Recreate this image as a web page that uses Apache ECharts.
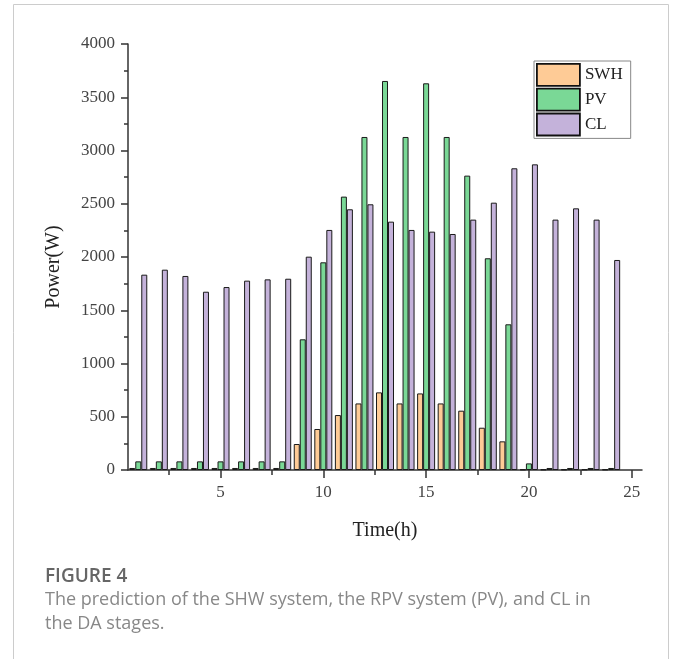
<!DOCTYPE html>
<html>
<head>
<meta charset="utf-8">
<title>Figure 4</title>
<script src="https://cdn.jsdelivr.net/npm/echarts@6.0.0/dist/echarts.min.js"></script>
<style>
  html, body { margin: 0; padding: 0; background: #fff; }
  #main { width: 680px; height: 659px; }
</style>
</head>
<body>
<div id="main"></div>
<script>
// hours of the day
var hours = [1, 2, 3, 4, 5, 6, 7, 8, 9, 10, 11, 12, 13, 14, 15, 16, 17, 18, 19, 20, 21, 22, 23, 24];
// predicted power (W)
var swh = [19, 19, 19, 19, 19, 19, 19, 19, 244, 385, 516, 625, 729, 625, 719, 625, 557, 397, 269, 5, 5, 5, 5, 5];
var pv = [81, 81, 81, 81, 81, 81, 81, 81, 1227, 1950, 2567, 3127, 3653, 3127, 3631, 3127, 2764, 1988, 1368, 62, 19, 19, 19, 19];
var cl = [1834, 1881, 1822, 1674, 1718, 1778, 1790, 1796, 2003, 2254, 2448, 2495, 2332, 2254, 2238, 2216, 2351, 2510, 2833, 2870, 2351, 2457, 2351, 1972];
// axis ticks
var xLabels = [5, 10, 15, 20, 25];
var xMinor = [2.5, 7.5, 12.5, 17.5, 22.5];

var serif = 'Liberation Serif';

function pairs(vals) {
  return hours.map(function (h, i) { return [h, vals[i]]; });
}
// tick text through rich style, no thousands separator
function plain(v) { return '{t|' + v + '}'; }
var tickRich = { t: { fontFamily: serif, fontSize: 17, color: '#444' } };

var myChart = echarts.init(document.getElementById('main'));

var option = {
  animation: false,
  backgroundColor: '#fff',
  textStyle: { fontFamily: serif },
  grid: {
    left: 128,
    right: 38,
    top: 44,
    bottom: 189
  },
  legend: {
    orient: 'vertical',
    left: 534,
    top: 61,
    padding: [2, 8, 2, 2],
    itemGap: 1,
    itemWidth: 43,
    itemHeight: 22,
    icon: 'rect',
    borderColor: '#888',
    borderWidth: 1,
    backgroundColor: '#fff',
    itemStyle: { borderColor: '#111', borderWidth: 1.8 },
    textStyle: { fontFamily: serif, fontSize: 17, color: '#222' },
    data: ['SWH', 'PV', 'CL']
  },
  xAxis: [
    {
      type: 'value',
      min: 0.5,
      max: 25.5,
      name: 'Time(h)',
      nameLocation: 'middle',
      nameGap: 51,
      nameTextStyle: { fontFamily: serif, fontSize: 20, color: '#222' },
      splitLine: { show: false },
      axisLine: { lineStyle: { color: '#333', width: 1.5 } },
      axisTick: { customValues: xLabels, length: 8, lineStyle: { color: '#333', width: 1.5 } },
      axisLabel: { customValues: xLabels, margin: 14, formatter: plain, rich: tickRich }
    },
    {
      // only the short ticks in between
      type: 'value',
      position: 'bottom',
      min: 0.5,
      max: 25.5,
      splitLine: { show: false },
      axisLine: { show: false },
      axisTick: { customValues: xMinor, length: 5, lineStyle: { color: '#333', width: 1.5 } },
      axisLabel: { show: false }
    }
  ],
  yAxis: {
    type: 'value',
    min: 0,
    max: 4000,
    interval: 500,
    name: 'Power(W)',
    nameLocation: 'middle',
    nameGap: 64,
    nameTextStyle: { fontFamily: serif, fontSize: 20, color: '#222', padding: [0, 20, 0, 0] },
    splitLine: { show: false },
    axisLine: { show: true, lineStyle: { color: '#333', width: 1.5 } },
    axisTick: { show: true, length: 7, lineStyle: { color: '#333', width: 1.5 } },
    minorTick: { show: true, splitNumber: 2, length: 4, lineStyle: { color: '#333', width: 1.5 } },
    axisLabel: { margin: 13, formatter: plain, rich: tickRich }
  },
  series: [
    {
      name: 'SWH',
      type: 'bar',
      xAxisIndex: 0,
      barWidth: 6,
      barGap: '0%',
      itemStyle: { color: '#FECB96', borderColor: '#1a1a1a', borderWidth: 1 },
      data: pairs(swh)
    },
    {
      name: 'PV',
      type: 'bar',
      xAxisIndex: 0,
      barWidth: 6,
      barGap: '0%',
      itemStyle: { color: '#7AD896', borderColor: '#1a1a1a', borderWidth: 1 },
      data: pairs(pv)
    },
    {
      name: 'CL',
      type: 'bar',
      xAxisIndex: 0,
      barWidth: 6,
      barGap: '0%',
      itemStyle: { color: '#C4B2DA', borderColor: '#1a1a1a', borderWidth: 1 },
      data: pairs(cl)
    }
  ],
  graphic: [
    // card frame
    {
      type: 'rect',
      shape: { x: 13.5, y: 4.5, width: 655, height: 700 },
      style: { fill: 'none', stroke: '#ccc', lineWidth: 1 },
      silent: true
    },
    {
      type: 'text',
      left: 45,
      top: 567,
      style: { text: 'FIGURE 4', font: "600 19px 'Open Sans', sans-serif", fill: '#666' }
    },
    {
      type: 'text',
      left: 45,
      top: 588,
      style: {
        text: 'The prediction of the SHW system, the RPV system (PV), and CL in\nthe DA stages.',
        font: "18px 'Open Sans', sans-serif",
        lineHeight: 24,
        fill: '#888'
      }
    }
  ]
};

// 使用刚指定的配置项和数据显示图表。
myChart.setOption(option);
</script>
</body>
</html>
